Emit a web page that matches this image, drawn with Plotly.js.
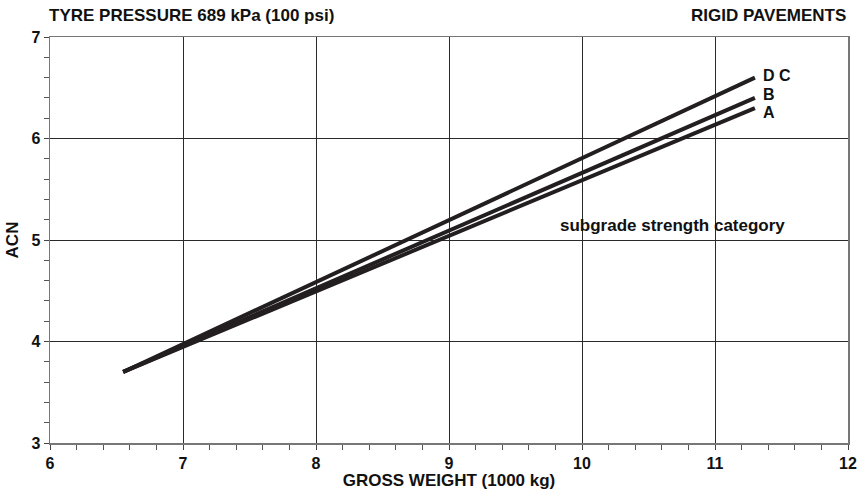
<!DOCTYPE html>
<html>
<head>
<meta charset="utf-8">
<script src="https://cdn.plot.ly/plotly-3.0.1.min.js"></script>
<style>html,body{margin:0;padding:0;background:#fff}</style>
</head>
<body>
<div id="chart" style="width:865px;height:490px"></div>
<script>
// Data (gross weight in 1000 kg, ACN)
const weights = [6.55, 11.3];
const acnDC = [3.7, 6.6];
const acnB = [3.7, 6.4];
const acnA = [3.7, 6.3];
const seriesLabels = ['D C', 'B', 'A'];
const xTicks = [6, 7, 8, 9, 10, 11, 12];
const yTicks = [3, 4, 5, 6, 7];

const FONT = 'Arial, "Liberation Sans", sans-serif';
const lineStyle = {color: '#231f20', width: 4};
const seriesY = [acnDC, acnB, acnA];
const labelShift = [2, 3, -4];

const traces = seriesY.map((ys, i) => ({
  x: weights, y: ys, mode: 'lines', type: 'scatter',
  line: lineStyle, name: seriesLabels[i], showlegend: false, hoverinfo: 'skip'
}));

const annotations = seriesY.map((ys, i) => ({
  x: weights[weights.length - 1], y: ys[ys.length - 1],
  xref: 'x', yref: 'y', text: '<b>' + seriesLabels[i] + '</b>', showarrow: false,
  xanchor: 'left', yanchor: 'middle', xshift: 6, yshift: labelShift[i],
  font: {family: FONT, size: 16, color: '#111'}
}));

annotations.push({
  x: 0, y: 1, xref: 'paper', yref: 'paper', text: '<b>TYRE PRESSURE 689 kPa (100 psi)</b>',
  showarrow: false, xanchor: 'left', yanchor: 'middle', xshift: -3, yshift: 22,
  font: {family: FONT, size: 17, color: '#111'}
});
annotations.push({
  x: 1, y: 1, xref: 'paper', yref: 'paper', text: '<b>RIGID PAVEMENTS</b>',
  showarrow: false, xanchor: 'right', yanchor: 'middle', xshift: 0, yshift: 22,
  font: {family: FONT, size: 17, color: '#111'}
});
annotations.push({
  x: 10.68, y: 5, xref: 'x', yref: 'y', text: '<b>subgrade strength category</b>',
  showarrow: false, xanchor: 'center', yanchor: 'bottom', yshift: 3,
  font: {family: FONT, size: 17, color: '#111'}
});

const axisCommon = {
  showgrid: true, gridcolor: '#2a2a2a', gridwidth: 1,
  showline: true, linecolor: '#777', linewidth: 1.5, mirror: true,
  ticks: 'outside', ticklen: 5, tickcolor: '#444', tickwidth: 1,
  zeroline: false,
  tickfont: {family: FONT, size: 16, color: '#111', weight: 'bold'},
  minor: {dtick: 0.2, ticks: 'outside', ticklen: 5, tickcolor: '#555', tickwidth: 1, showgrid: false}
};

const layout = {
  width: 865, height: 490,
  margin: {l: 50, r: 17, t: 37, b: 47},
  paper_bgcolor: '#fff', plot_bgcolor: '#fff',
  xaxis: Object.assign({}, axisCommon, {
    range: [6, 12], tickvals: xTicks, ticktext: xTicks.map(v => '<b>' + v + '</b>'),
    title: {text: '<b>GROSS WEIGHT (1000 kg)</b>', standoff: 0, font: {family: FONT, size: 17, color: '#111'}}
  }),
  yaxis: Object.assign({}, axisCommon, {
    range: [3, 7], tickvals: yTicks, ticktext: yTicks.map(v => '<b>' + v + '</b>'),
    title: {text: '<b>ACN</b>', standoff: 8, font: {family: FONT, size: 17, color: '#111'}}
  }),
  annotations: annotations
};

Plotly.newPlot('chart', traces, layout, {displayModeBar: false, staticPlot: true});
</script>
</body>
</html>
